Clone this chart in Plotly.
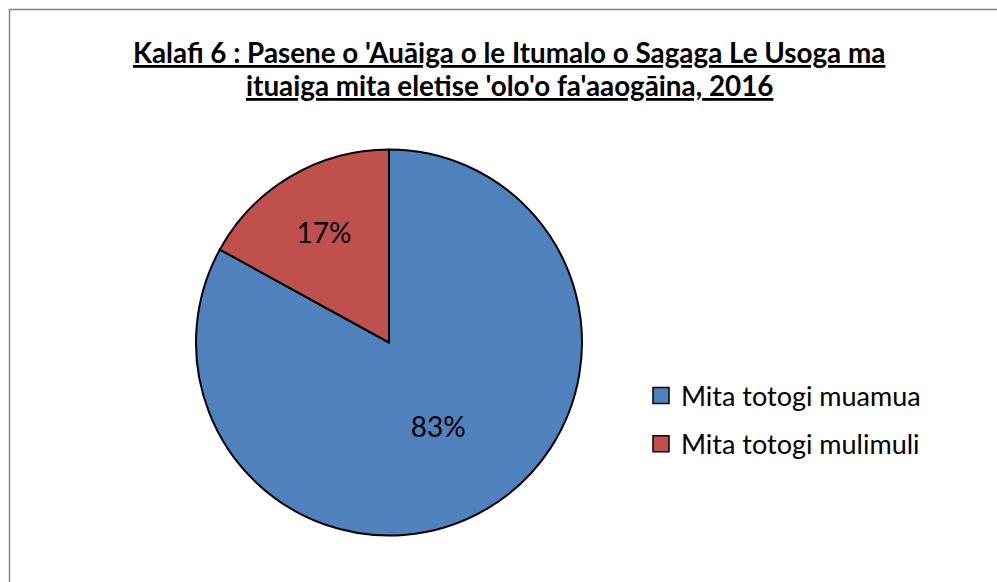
import plotly.graph_objects as go

categories = ["Mita totogi muamua", "Mita totogi mulimuli"]
values = [83, 17]
colors = ["#4F81BD", "#C0504D"]
title_lines = ["Kalafi 6 : Pasene o 'Auāiga o le Itumalo o Sagaga Le Usoga ma",
               "ituaiga mita eletise 'olo'o fa'aaogāina, 2016"]

W, H = 997, 582
FONT = "Lato"
fig = go.Figure()
fig.add_trace(go.Pie(
    labels=categories, values=values, sort=False, direction="clockwise", rotation=0,
    marker=dict(colors=colors, line=dict(color="black", width=2)),
    textinfo="percent", textposition="inside", insidetextorientation="horizontal",
    textfont=dict(family=FONT, size=28, color="black"),
    texttemplate="%{percent:.0%}",
    domain=dict(x=[196 / W, 582 / W], y=[1 - 536 / H, 1 - 149 / H]),
    hoverinfo="label+percent", showlegend=False,
))

# legend entries (one per category), drawn as marker-only traces
for i, (cat, col) in enumerate(zip(categories, colors)):
    fig.add_trace(go.Scatter(
        x=[None], y=[None], mode="markers", name=cat, legendgroup=f"g{i}",
        marker=dict(symbol="square", size=16, color=col, line=dict(color="black", width=1.5)),
        showlegend=True, hoverinfo="skip",
    ))

for i, line in enumerate(title_lines):
    fig.add_annotation(
        text=f"<b>{line}</b>", x=509 / W, y=1 - (52 + 33 * i) / H, xref="paper", yref="paper",
        showarrow=False, xanchor="center", yanchor="middle",
        font=dict(family=FONT, size=27.8, color="black", lineposition="under"),
    )

fig.add_shape(type="rect", xref="paper", yref="paper",
              x0=9.5 / W, x1=1.05, y0=-0.05, y1=1 - 9.5 / H,
              line=dict(color="#868686", width=1.5), fillcolor="rgba(0,0,0,0)")

fig.update_layout(
    width=W, height=H, margin=dict(l=0, r=0, t=0, b=0),
    paper_bgcolor="white", plot_bgcolor="white",
    xaxis=dict(visible=False), yaxis=dict(visible=False),
    showlegend=True,
    legend=dict(x=641 / W, y=1 - 420 / H, xanchor="left", yanchor="middle",
                font=dict(family=FONT, size=27, color="black"),
                itemwidth=30, traceorder="grouped", tracegroupgap=10,
                bgcolor="rgba(0,0,0,0)"),
)
fig.write_html("out.html", config={"displayModeBar": False},
               post_script="document.body.style.margin='0';")
